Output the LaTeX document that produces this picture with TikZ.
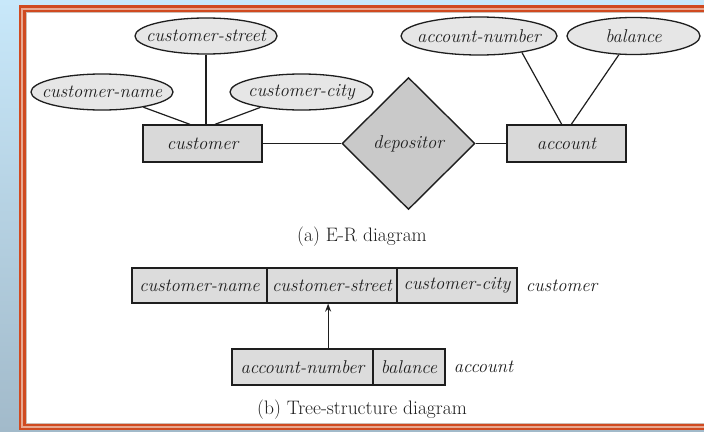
\documentclass[tikz,border=0pt]{standalone}
\usetikzlibrary{shapes.geometric,calc,arrows.meta}

\definecolor{bgtop}{HTML}{C8E8FA}
\definecolor{bgbottom}{HTML}{A2BACA}
\definecolor{frameorange}{HTML}{D04A20}
\definecolor{framepale}{HTML}{E8A890}
\definecolor{framegray}{HTML}{CDBDB5}
\definecolor{inkcol}{HTML}{1E1E1E}
\definecolor{attrfill}{HTML}{E6E6E6}
\definecolor{entfill}{HTML}{D9D9D9}
\definecolor{relfill}{HTML}{C9C9C9}
\definecolor{cellfill}{HTML}{DCDCDC}

\begin{document}
\begin{tikzpicture}[x=1pt,y=-1pt,
  every node/.style={font=\fontsize{18.5}{22}\selectfont\itshape, text=inkcol},
  % attribute ovals keep a fixed size; the name is set as a centred label
  attr/.style={ellipse, draw=inkcol, line width=1.3pt, fill=attrfill,
    minimum width=142pt, minimum height=36pt, inner sep=0pt, label={center:#1}},
  entity/.style={rectangle, draw=inkcol, line width=1.4pt, fill=entfill,
    minimum width=119pt, minimum height=37pt, inner sep=0pt},
  rel/.style={diamond, draw=inkcol, line width=1.4pt, fill=relfill,
    minimum width=133pt, minimum height=132pt, inner sep=0pt},
  link/.style={line width=1.2pt, draw=inkcol},
  cell/.style={rectangle, draw=inkcol, line width=1.3pt, fill=cellfill,
    minimum height=35pt, inner sep=0pt},
  tag/.style={anchor=west, inner sep=0pt},
  caption/.style={font=\fontsize{19.5}{23}\selectfont\upshape}
]
\useasboundingbox (0,0) rectangle (704,431);

% slide background and double frame
\shade[top color=bgtop, bottom color=bgbottom] (0,0) rectangle (704,431);
\fill[frameorange] (19,5) rectangle (712,430);
\fill[framepale] (21,7.5) rectangle (712,427.5);
\fill[frameorange] (23,9.5) rectangle (712,426);
\fill[framegray] (26,12) rectangle (712,423.5);
\fill[white] (27,13) rectangle (712,423);

% (a) E-R diagram
\node[attr=customer-street] (street) at (206,36) {};
\node[attr=customer-name] (cname) at (102,92) {};
\node[attr=customer-city, minimum width=143pt] (city) at (301.5,92) {};
\node[entity] (cust) at (202.5,143.5) {customer};
\node[rel] (dep) at (408.5,143.5) {depositor};
\node[entity] (acct) at (566.5,143.5) {account};
\node[attr=account-number, minimum width=156pt, minimum height=38pt] (anum) at (479,36) {};
\node[attr=balance, minimum width=133pt, minimum height=37pt] (bal) at (633.5,36) {};

\draw[link] (cname) -- ($(cust.north west)!0.395!(cust.north east)$);
\draw[link] (street) -- (street |- cust.north);
\draw[link] (city) -- ($(cust.north west)!0.605!(cust.north east)$);
\draw[link] (cust) -- (dep);
\draw[link] (dep) -- (acct);
\draw[link] (anum.-21) -- ($(acct.north west)!0.46!(acct.north east)$);
\draw[link] (bal.-128) -- ($(acct.north west)!0.54!(acct.north east)$);

\node[caption] (capa) at (362,237) {(a) E-R diagram};

% (b) tree-structure diagram
\node[cell, minimum width=135pt] (tcn) at (199.5,285.5) {customer-name};
\node[cell, minimum width=130pt] (tcs) at (332,285.5) {customer-street};
\node[cell, minimum width=120pt] (tcc) at (457,285.5) {customer-city};
\node[tag] (tcl) at ($(tcc.east)+(8,0)$) {customer};

\node[cell, minimum width=141pt, minimum height=36pt] (tan) at (302.5,367) {account-number};
\node[cell, minimum width=72pt, minimum height=36pt] (tb) at (409,367) {balance};
\node[tag] (tal) at ($(tb.east)+(8,0)$) {account};

\coordinate (tail) at ($(tan.north west)!0.68!(tan.north east)$);
\draw[link, -{Stealth[length=8pt,width=6pt]}] (tail) -- (tail |- tcs.south);

\node[caption] (capb) at (362,410) {(b) Tree-structure diagram};
\end{tikzpicture}
\end{document}
